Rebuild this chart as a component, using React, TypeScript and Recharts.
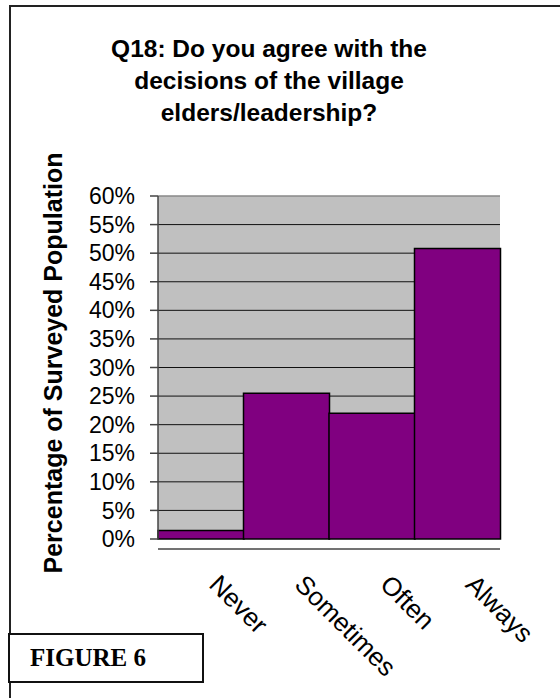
import React from 'react'
import {
  BarChart,
  Bar,
  XAxis,
  YAxis,
  CartesianGrid,
  ReferenceLine,
} from 'recharts'

// survey answers and share of respondents (%)
const ANSWERS = ['Never', 'Sometimes', 'Often', 'Always']
const SHARES = [1.5, 25.5, 22.0, 50.8]
const PCT_TICKS = [0, 5, 10, 15, 20, 25, 30, 35, 40, 45, 50, 55, 60]
const GRID_VALUES = [5, 10, 15, 20, 25, 30, 35, 40, 45, 50, 55]
const EDGE_TICKS = [0, 1, 2, 3, 4]

const TITLE_LINES = [
  'Q18: Do you agree with the',
  'decisions of the village',
  'elders/leadership?',
]

const SANS = '"Liberation Sans", Arial, sans-serif'
const SERIF = '"Liberation Serif", "Times New Roman", serif'
const PURPLE = '#800080'
const PLOT_BG = '#c0c0c0'
const PLOT_BOTTOM = 539

const rows = ANSWERS.map((answer, i) => ({ answer, share: SHARES[i] }))

// category names slanted downwards, starting just right of the band centre
function SlantedTick(props: any) {
  const { x, payload } = props
  return (
    <text
      transform={`translate(${x + 7},${PLOT_BOTTOM + 47}) rotate(45)`}
      textAnchor="start"
      fontFamily={SANS}
      fontSize={26}
      fill="#000"
    >
      {payload.value}
    </text>
  )
}

export default function App() {
  return (
    <div
      style={{
        position: 'absolute',
        left: 0,
        top: 0,
        width: 560,
        height: 698,
        background: '#fff',
        overflow: 'hidden',
      }}
    >
      {/* page frame, runs off the right and bottom */}
      <div
        style={{
          position: 'absolute',
          left: 9,
          top: 5,
          width: 600,
          height: 800,
          borderLeft: '2px solid #222',
          borderTop: '2px solid #222',
        }}
      />

      <div
        style={{
          position: 'absolute',
          left: 69,
          top: 33,
          width: 400,
          textAlign: 'center',
          fontFamily: SANS,
          fontWeight: 'bold',
          fontSize: 24.5,
          lineHeight: '32px',
        }}
      >
        {TITLE_LINES.map((l) => (
          <div key={l}>{l}</div>
        ))}
      </div>

      <div
        style={{
          position: 'absolute',
          left: 53,
          top: 363,
          transform: 'translate(-50%, -50%) rotate(-90deg)',
          whiteSpace: 'nowrap',
          fontFamily: SANS,
          fontWeight: 'bold',
          fontSize: 25,
        }}
      >
        Percentage of Surveyed Population
      </div>

      <div style={{ position: 'absolute', left: 0, top: 0 }}>
        <BarChart
          width={560}
          height={698}
          data={rows}
          barCategoryGap={0}
          margin={{ top: 196, right: 60, bottom: 139, left: 98 }}
        >
          <CartesianGrid
            fill={PLOT_BG}
            vertical={false}
            stroke="#111"
            horizontalValues={GRID_VALUES}
          />
          <XAxis
            xAxisId="edges"
            type="number"
            domain={[0, 4]}
            ticks={EDGE_TICKS}
            tick={false}
            tickSize={8}
            height={10}
            axisLine={{ stroke: '#444', strokeWidth: 1.5 }}
            tickLine={{ stroke: '#444', strokeWidth: 1.5 }}
          />
          <XAxis
            dataKey="answer"
            height={10}
            axisLine={false}
            tickLine={false}
            interval={0}
            tick={<SlantedTick />}
          />
          <YAxis
            width={60}
            domain={[0, 60]}
            ticks={PCT_TICKS}
            interval={0}
            tickSize={8}
            tickMargin={15}
            tickFormatter={(v: number) => `${v}%`}
            tick={{ fontFamily: SANS, fontSize: 23, fill: '#000' }}
            axisLine={{ stroke: '#444', strokeWidth: 1.5 }}
            tickLine={{ stroke: '#444', strokeWidth: 1.5 }}
          />
          <ReferenceLine y={60} stroke="#888" strokeWidth={1.5} />
          <ReferenceLine x={4} xAxisId="edges" stroke="#888" strokeWidth={1.5} />
          <Bar
            dataKey="share"
            fill={PURPLE}
            stroke="#000"
            strokeWidth={1.5}
            isAnimationActive={false}
          />
        </BarChart>
      </div>

      <div
        style={{
          position: 'absolute',
          left: 8,
          top: 633,
          width: 172,
          height: 46,
          border: '2px solid #111',
          background: '#fff',
          fontFamily: SERIF,
          fontWeight: 'bold',
          fontSize: 25,
          lineHeight: '46px',
          paddingLeft: 20,
          boxSizing: 'content-box',
        }}
      >
        FIGURE 6
      </div>
    </div>
  )
}
